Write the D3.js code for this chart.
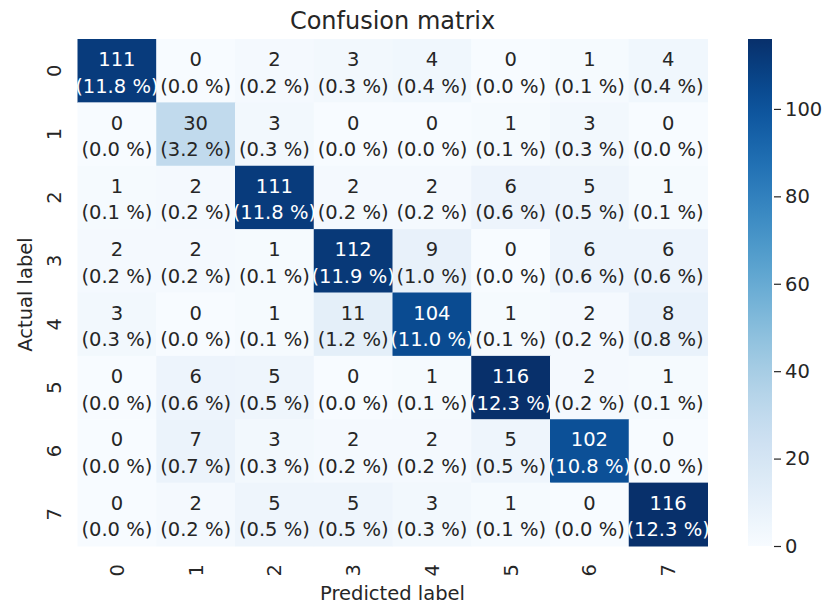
<!DOCTYPE html>
<html>
<head>
<meta charset="utf-8">
<script src="https://cdn.jsdelivr.net/npm/d3@7"></script>
<style>
  html, body { margin: 0; padding: 0; background: #ffffff; }
  svg { display: block; font-family: "DejaVu Sans", sans-serif; }
</style>
</head>
<body>
<svg id="chart" width="823" height="606"></svg>
<script>
// Class labels for both axes
const classes = ["0", "1", "2", "3", "4", "5", "6", "7"];

// Confusion matrix counts, one array per actual class (row)
const row0 = [111, 0, 2, 3, 4, 0, 1, 4];
const row1 = [0, 30, 3, 0, 0, 1, 3, 0];
const row2 = [1, 2, 111, 2, 2, 6, 5, 1];
const row3 = [2, 2, 1, 112, 9, 0, 6, 6];
const row4 = [3, 0, 1, 11, 104, 1, 2, 8];
const row5 = [0, 6, 5, 0, 1, 116, 2, 1];
const row6 = [0, 7, 3, 2, 2, 5, 102, 0];
const row7 = [0, 2, 5, 5, 3, 1, 0, 116];
const matrix = [row0, row1, row2, row3, row4, row5, row6, row7];

// Colour bar ticks
const colorbarTicks = [0, 20, 40, 60, 80, 100];

const svg = d3.select("#chart");
const textColor = "#262626";
const fs = 19.5;

const grid = { left: 77.5, top: 39, width: 630, height: 507 };

const x = d3.scaleBand().domain(classes).range([grid.left, grid.left + grid.width]);
const y = d3.scaleBand().domain(classes).range([grid.top, grid.top + grid.height]);

const total = d3.sum(matrix, r => d3.sum(r));
const vmax = d3.max(matrix, r => d3.max(r));
const vmin = d3.min(matrix, r => d3.min(r));
const color = d3.scaleSequential(d3.interpolateBlues).domain([vmin, vmax]);

// Flatten to cells
const cells = [];
matrix.forEach((r, i) => r.forEach((v, j) => cells.push({ actual: classes[i], pred: classes[j], v })));

// Relative luminance to choose annotation colour
function luminance(c) {
  const rgb = d3.rgb(c);
  const f = ch => { ch /= 255; return ch <= 0.03928 ? ch / 12.92 : Math.pow((ch + 0.055) / 1.055, 2.4); };
  return 0.2126 * f(rgb.r) + 0.7152 * f(rgb.g) + 0.0722 * f(rgb.b);
}

// Cells
svg.append("g").selectAll("rect").data(cells).join("rect")
  .attr("x", d => x(d.pred))
  .attr("y", d => y(d.actual))
  .attr("width", x.bandwidth() + 0.5)
  .attr("height", y.bandwidth() + 0.5)
  .attr("fill", d => color(d.v));

// Annotations: count and share of total
const ann = svg.append("g").attr("font-size", fs).attr("text-anchor", "middle");
cells.forEach(d => {
  const cx = x(d.pred) + x.bandwidth() / 2;
  const cy = y(d.actual) + y.bandwidth() / 2;
  const fill = luminance(color(d.v)) < 0.408 ? "#ffffff" : textColor;
  const t = ann.append("text").attr("fill", fill);
  t.append("tspan").attr("x", cx).attr("y", cy - 4.5).text(d.v);
  t.append("tspan").attr("x", cx).attr("y", cy + 22).text(`(${(100 * d.v / total).toFixed(1)} %)`);
});

// Y tick labels (rotated)
svg.append("g").selectAll("text").data(classes).join("text")
  .attr("transform", d => `translate(61,${y(d) + y.bandwidth() / 2}) rotate(-90)`)
  .attr("text-anchor", "middle")
  .attr("font-size", fs)
  .attr("fill", textColor)
  .text(d => d);

// X tick labels (rotated)
svg.append("g").selectAll("text").data(classes).join("text")
  .attr("transform", d => `translate(${x(d) + x.bandwidth() / 2 + 7},564) rotate(-90)`)
  .attr("text-anchor", "end")
  .attr("font-size", fs)
  .attr("fill", textColor)
  .text(d => d);

// Axis titles
svg.append("text")
  .attr("x", grid.left + grid.width / 2).attr("y", 600)
  .attr("text-anchor", "middle").attr("font-size", fs).attr("fill", textColor)
  .text("Predicted label");

svg.append("text")
  .attr("transform", `translate(31.5,${grid.top + grid.height / 2 + 2}) rotate(-90)`)
  .attr("text-anchor", "middle").attr("font-size", fs).attr("fill", textColor)
  .text("Actual label");

svg.append("text")
  .attr("x", grid.left + grid.width / 2).attr("y", 29)
  .attr("text-anchor", "middle").attr("font-size", 24).attr("fill", textColor)
  .text("Confusion matrix");

// Colour bar
const cb = { left: 748, width: 24, top: grid.top, height: grid.height };
const cbScale = d3.scaleLinear().domain([vmin, vmax]).range([cb.top + cb.height, cb.top]);

const defs = svg.append("defs");
const grad = defs.append("linearGradient").attr("id", "cbgrad")
  .attr("x1", 0).attr("y1", 1).attr("x2", 0).attr("y2", 0);
d3.range(0, 1.0001, 0.05).forEach(t => {
  grad.append("stop").attr("offset", t).attr("stop-color", d3.interpolateBlues(t));
});
svg.append("rect")
  .attr("x", cb.left).attr("y", cb.top)
  .attr("width", cb.width).attr("height", cb.height)
  .attr("fill", "url(#cbgrad)");

const cbAxis = d3.axisRight(cbScale).tickValues(colorbarTicks).tickSize(8).tickPadding(4);
const cbG = svg.append("g")
  .attr("transform", `translate(${cb.left + cb.width + 1},0)`)
  .call(cbAxis);
cbG.select(".domain").remove();
cbG.selectAll(".tick line").attr("stroke", textColor).attr("stroke-width", 1.2).attr("x1", 1);
cbG.selectAll(".tick text")
  .attr("font-size", fs).attr("fill", textColor)
  .attr("font-family", "DejaVu Sans, sans-serif");
</script>
</body>
</html>
